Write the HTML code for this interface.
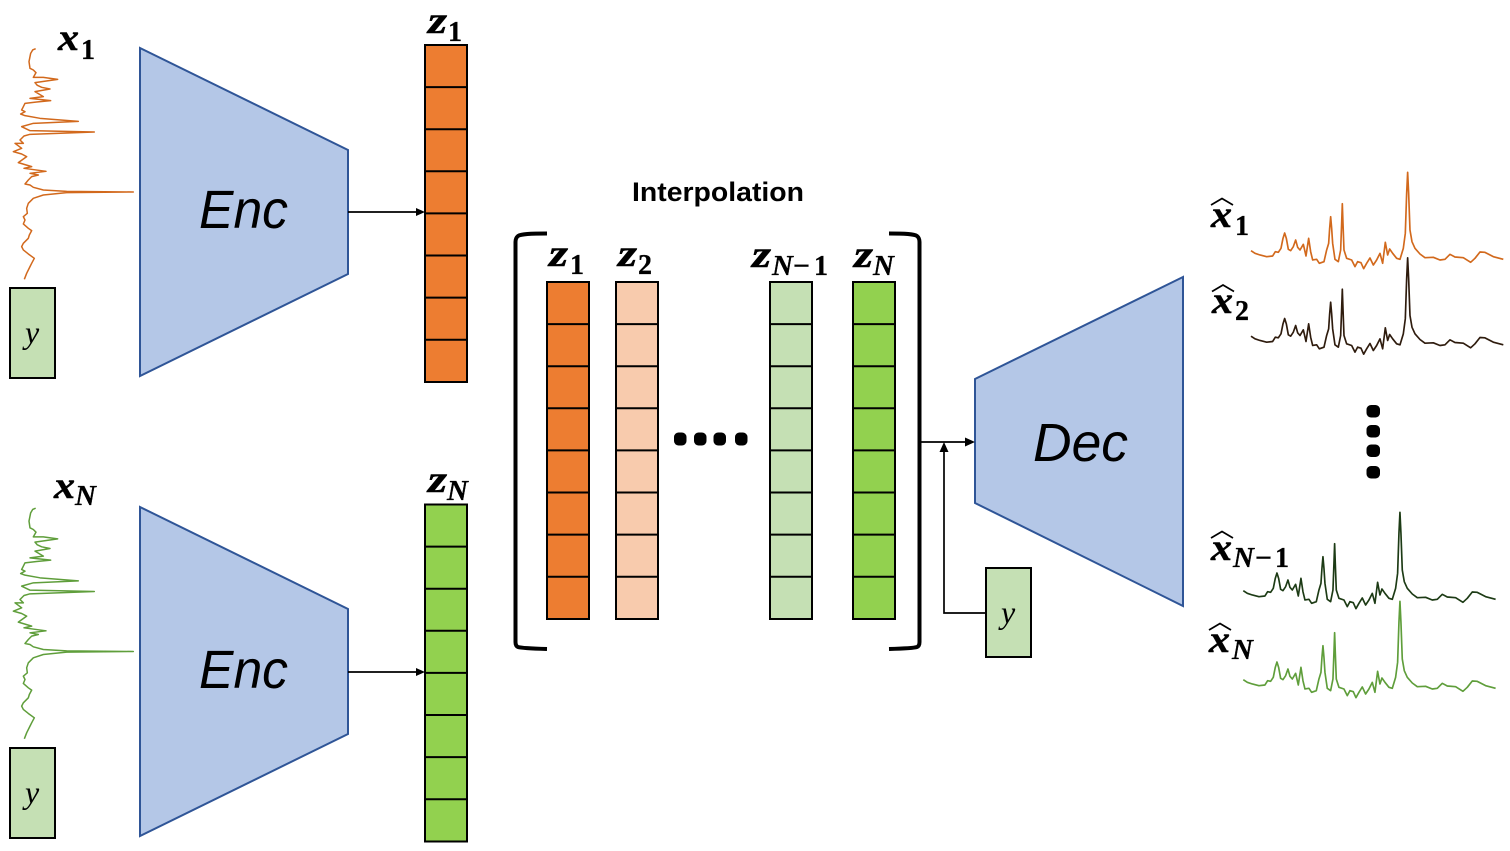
<!DOCTYPE html>
<html>
<head>
<meta charset="utf-8">
<style>
html,body{margin:0;padding:0;background:#fff}
svg{display:block}
.m,.s,.n{font-family:"Liberation Serif",serif;font-weight:bold;fill:#000;stroke:#000;stroke-width:.5}
.m{font-style:italic;font-size:38px}
.s{font-style:italic;font-size:29px;stroke-width:.3}
.n{font-size:28px;stroke-width:.3}
.y{font-family:"Liberation Serif",serif;font-style:italic;font-size:32px;fill:#000}
.b{font-family:"Liberation Sans",sans-serif;font-style:italic;font-size:54px;fill:#000}
.t{fill:#B4C7E7;stroke:#2F5597;stroke-width:2}
.box{stroke:#000;stroke-width:2}
.w{fill:none;stroke:#000;stroke-width:1.7}
.h{fill:none;stroke:#000;stroke-width:1.7}
</style>
</head>
<body>
<svg width="1510" height="851" viewBox="0 0 1510 851" xmlns="http://www.w3.org/2000/svg">
<defs>
<filter id="soft" x="-5%" y="-5%" width="110%" height="110%"><feGaussianBlur stdDeviation="0.35"/></filter>
<polyline id="sv" fill="none" stroke-linejoin="round" stroke-width="4.5" points="107,146 98,150 92,160 87,185 90,205 100,210 108,218 100,232 130,232 173,238 105,248 112,256 125,262 150,267 105,275 130,290 90,295 152,302 110,306 75,310 70,320 65,330 75,335 62,342 75,347 120,355 235,364 100,370 65,380 90,392 283,396 90,403 72,408 60,420 70,430 45,430 65,445 40,455 65,462 80,470 55,488 95,500 72,505 138,514 90,520 115,525 95,530 85,540 75,552 90,555 100,562 130,570 200,574 400,576 200,578 130,585 100,595 85,610 80,625 82,640 70,650 75,660 70,672 85,685 95,692 88,705 85,715 70,730 65,740 70,750 85,762 103,775 95,790 90,800 80,820 73,838"/>
<polyline id="sh" fill="none" stroke-linejoin="round" stroke-width="5" points="153,272 165,280 180,285 200,290 218,288 226,275 235,277 243,265 249,235 254,219 259,235 265,268 272,272 280,260 287,240 293,262 300,270 310,253 318,288 326,235 332,275 338,300 350,298 358,310 372,305 380,270 386,250 389,205 392,170 395,205 398,250 405,298 415,305 422,270 425,190 427,131 429,190 432,270 440,295 455,300 465,320 473,305 483,308 491,326 500,310 510,294 520,315 530,300 540,280 548,310 556,247 563,285 569,267 578,280 590,295 600,298 610,265 616,220 620,100 623,37 626,100 630,210 636,245 645,265 660,282 675,293 700,292 720,300 735,298 750,283 765,291 790,293 812,307 825,295 840,276 855,277 880,290 910,298"/>
<g id="lines">
<path d="M0 42.1H42M0 84.2H42M0 126.3H42M0 168.400H42M0 210.500H42M0 252.600H42M0 294.700H42" stroke="#000" stroke-width="2" fill="none"/>
<rect x="0" y="0" width="42" height="337" fill="none" stroke="#000" stroke-width="2"/>
</g>
</defs>

<!-- Encoders and decoder -->
<polygon class="t" points="140,48 348,150 348,274 140,376"/>
<polygon class="t" points="140,507 348,609 348,734 140,836"/>
<polygon class="t" points="1183,277 975,379 975,503 1183,606"/>
<text class="b" x="199" y="228" textLength="89" lengthAdjust="spacingAndGlyphs">Enc</text>
<text class="b" x="199" y="688" textLength="89" lengthAdjust="spacingAndGlyphs">Enc</text>
<text class="b" x="1033" y="461" textLength="95" lengthAdjust="spacingAndGlyphs">Dec</text>

<!-- Input spectra -->
<g filter="url(#soft)">
<use href="#sv" stroke="#D2691E" transform="scale(0.3333)"/>
<use href="#sv" stroke="#5F9E3A" transform="translate(0,459.5) scale(0.3333)"/>
</g>

<!-- y boxes -->
<rect class="box" x="10" y="288" width="45" height="90" fill="#C5E0B4"/>
<rect class="box" x="10" y="748" width="45" height="90" fill="#C5E0B4"/>
<rect class="box" x="986" y="568" width="45" height="89" fill="#C5E0B4"/>
<text class="y" x="25" y="343">y</text>
<text class="y" x="25" y="803">y</text>
<text class="y" x="1001" y="623">y</text>

<!-- Latent bars -->
<rect x="425" y="45" width="42" height="337" fill="#ED7D31"/><use href="#lines" transform="translate(425,45)"/>
<rect x="425" y="504" width="42" height="338" fill="#92D14F"/><use href="#lines" transform="translate(425,504.500)"/>
<rect x="547" y="282" width="42" height="337" fill="#ED7D31"/><use href="#lines" transform="translate(547,282)"/>
<rect x="615.500" y="282" width="43" height="337" fill="#F8CBAD"/><use href="#lines" transform="translate(616,282)"/>
<rect x="770" y="282" width="42" height="337" fill="#C5E0B4"/><use href="#lines" transform="translate(770,282)"/>
<rect x="853" y="282" width="42" height="337" fill="#92D14F"/><use href="#lines" transform="translate(853,282)"/>

<!-- Brackets -->
<path d="M547 233.500 C530 233.500 521 234 518 236 Q515.500 238 515.500 242 V642 Q515.500 646 518 647 C521 648 530 648.500 547 649" fill="none" stroke="#000" stroke-width="4"/>
<path d="M889 233.500 C906 233.500 914 234 917 236 Q919.500 238 919.500 242 V642 Q919.500 646 917 647 C914 648 906 648.500 889 649" fill="none" stroke="#000" stroke-width="4"/>

<!-- Connectors -->
<path class="w" d="M348 212H418"/><polygon points="425,212 416,208 416,216" fill="#000"/>
<path class="w" d="M348 672H418"/><polygon points="425,672 416,668 416,676" fill="#000"/>
<path class="w" d="M921 442H967"/><polygon points="975,442 965,437.500 965,446.500" fill="#000"/>
<path class="w" d="M986 613H944V450"/><polygon points="944,442 939.500,452 948.500,452" fill="#000"/>

<!-- Dots -->
<rect x="674" y="432.500" width="12.500" height="13" rx="4.500" fill="#000"/>
<rect x="694" y="432.500" width="12.500" height="13" rx="4.500" fill="#000"/>
<rect x="713.500" y="432.500" width="12.500" height="13" rx="4.500" fill="#000"/>
<rect x="735" y="432.500" width="12.500" height="13" rx="4.500" fill="#000"/>
<rect x="1366.500" y="405" width="13.500" height="12.500" rx="4.500" fill="#000"/>
<rect x="1366.500" y="425" width="13.500" height="12.500" rx="4.500" fill="#000"/>
<rect x="1366.500" y="444.500" width="13.500" height="12.500" rx="4.500" fill="#000"/>
<rect x="1366.500" y="466" width="13.500" height="12.500" rx="4.500" fill="#000"/>

<!-- Output spectra -->
<g filter="url(#soft)">
<use href="#sh" stroke="#D2691E" transform="translate(1200,160) scale(0.3333)"/>
<use href="#sh" stroke="#2E1A0E" transform="translate(1200,245.500) scale(0.3333)"/>
<use href="#sh" stroke="#1E3A12" transform="translate(1192.300,500) scale(0.3333)"/>
<use href="#sh" stroke="#5F9E3A" transform="translate(1192.300,589) scale(0.3333)"/>
</g>

<!-- Title -->
<text x="632" y="201" font-family="'Liberation Sans',sans-serif" font-weight="bold" font-size="27" textLength="172" lengthAdjust="spacingAndGlyphs">Interpolation</text>

<!-- Input labels -->
<text class="m" x="58" y="50" textLength="21" lengthAdjust="spacingAndGlyphs">x</text><text class="n" x="81" y="59" textLength="14" lengthAdjust="spacingAndGlyphs">1</text>
<text class="m" x="54" y="498" textLength="21" lengthAdjust="spacingAndGlyphs">x</text><text class="s" x="75" y="505" textLength="21" lengthAdjust="spacingAndGlyphs">N</text>

<!-- z labels -->
<text class="m" x="428" y="33" textLength="19" lengthAdjust="spacingAndGlyphs">z</text><text class="n" x="448" y="41" textLength="14" lengthAdjust="spacingAndGlyphs">1</text>
<text class="m" x="428" y="492" textLength="19" lengthAdjust="spacingAndGlyphs">z</text><text class="s" x="447" y="500" textLength="21" lengthAdjust="spacingAndGlyphs">N</text>
<text class="m" x="549" y="266" textLength="19" lengthAdjust="spacingAndGlyphs">z</text><text class="n" x="570" y="274" textLength="14" lengthAdjust="spacingAndGlyphs">1</text>
<text class="m" x="618" y="266" textLength="19" lengthAdjust="spacingAndGlyphs">z</text><text class="n" x="638" y="274" textLength="14" lengthAdjust="spacingAndGlyphs">2</text>
<text class="m" x="752" y="267" textLength="19" lengthAdjust="spacingAndGlyphs">z</text><text class="s" x="772" y="275" textLength="21" lengthAdjust="spacingAndGlyphs">N</text><text class="n" x="793" y="275" textLength="17" lengthAdjust="spacingAndGlyphs">−</text><text class="n" x="814" y="275" textLength="14" lengthAdjust="spacingAndGlyphs">1</text>
<text class="m" x="854" y="267" textLength="19" lengthAdjust="spacingAndGlyphs">z</text><text class="s" x="873" y="275" textLength="21" lengthAdjust="spacingAndGlyphs">N</text>

<!-- Hat labels -->
<path class="h" d="M1211 205 L1222 198.500 L1233 205"/>
<text class="m" x="1211" y="227" textLength="21" lengthAdjust="spacingAndGlyphs">x</text><text class="n" x="1235" y="235" textLength="14" lengthAdjust="spacingAndGlyphs">1</text>
<path class="h" d="M1212 291.500 L1223 285 L1234 291.500"/>
<text class="m" x="1212" y="313" textLength="21" lengthAdjust="spacingAndGlyphs">x</text><text class="n" x="1235" y="320" textLength="14" lengthAdjust="spacingAndGlyphs">2</text>
<path class="h" d="M1211 538 L1222 531.500 L1233 538"/>
<text class="m" x="1211" y="560" textLength="21" lengthAdjust="spacingAndGlyphs">x</text><text class="s" x="1233" y="567" textLength="21" lengthAdjust="spacingAndGlyphs">N</text><text class="n" x="1255" y="567" textLength="17" lengthAdjust="spacingAndGlyphs">−</text><text class="n" x="1275" y="567" textLength="14" lengthAdjust="spacingAndGlyphs">1</text>
<path class="h" d="M1209 630 L1220 623.500 L1231 630"/>
<text class="m" x="1209" y="652" textLength="21" lengthAdjust="spacingAndGlyphs">x</text><text class="s" x="1232" y="659" textLength="21" lengthAdjust="spacingAndGlyphs">N</text>
</svg>
</body>
</html>
